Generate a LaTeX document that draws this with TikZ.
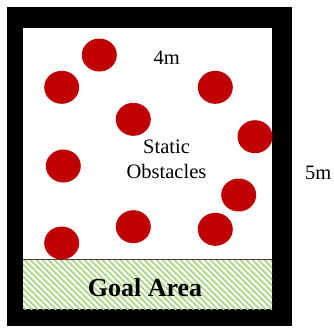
\documentclass[tikz,border=0pt]{standalone}
\usepackage{fontspec}
\setmainfont{Liberation Serif}
\usetikzlibrary{shapes.geometric}
\definecolor{obsred}{RGB}{192,0,0}
\definecolor{hatchgreen}{RGB}{176,216,140}
\tikzset{
  obstacle/.style={ellipse, fill=obsred, draw=none, minimum width=35pt, minimum height=33pt, inner sep=0pt},
  lbl/.style={font=\fontsize{20.5}{25}\selectfont, inner sep=0pt, align=center},
  goallbl/.style={font=\fontsize{26}{30}\selectfont\bfseries, inner sep=0pt},
  wall/.style={fill=black},
}
\begin{document}
\begin{tikzpicture}[x=1pt,y=-1pt]
\useasboundingbox (0,0) rectangle (334,327);
% walls
\fill[wall] (7,7) rectangle (292,326);
\fill[white] (23,28) rectangle (272,309);
% goal area hatch
\begin{scope}
\clip (23,259.5) rectangle (272,309);
\foreach \x in {-60,-54,...,280} {
  \draw[hatchgreen, line width=1.8pt] (\x,259.5) -- ({\x+50},309.5);
}
\end{scope}
\draw[black!75, line width=1pt] (23,259.5) -- (272,259.5);
% obstacles
\node[obstacle] (o1) at (99.3,55) {};
\node[obstacle] (o2) at (61.7,87.3) {};
\node[obstacle] (o3) at (215.3,87.3) {};
\node[obstacle] (o4) at (133.3,119.3) {};
\node[obstacle] (o5) at (255,136.7) {};
\node[obstacle] (o6) at (63.3,166) {};
\node[obstacle] (o7) at (238.7,195) {};
\node[obstacle] (o8) at (133.3,226.7) {};
\node[obstacle] (o9) at (215.3,229.3) {};
\node[obstacle] (o10) at (61.7,243) {};
% labels
\node[lbl] (w) at (166.7,57.3) {4m};
\node[lbl] (h) at (318.3,173.3) {5m};
\node[lbl] (so) at (166.5,159.2) {Static\\Obstacles};
\node[goallbl] (goal) at (145,287.3) {Goal Area};
\end{tikzpicture}
\end{document}
